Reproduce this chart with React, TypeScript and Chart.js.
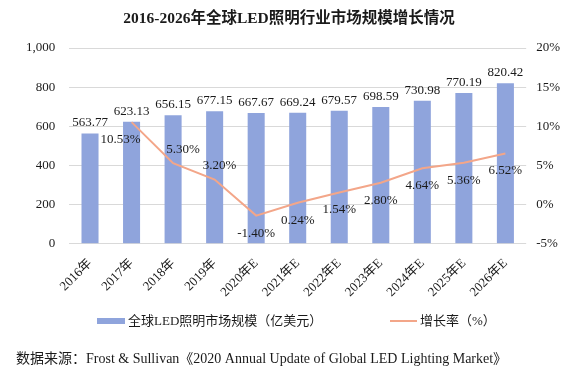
import React, { useEffect, useRef } from "react";
import { Chart, registerables } from "chart.js";

Chart.register(...registerables);

const categories = ["2016年", "2017年", "2018年", "2019年", "2020年E", "2021年E", "2022年E", "2023年E", "2024年E", "2025年E", "2026年E"];
const marketSize = [563.77, 623.13, 656.15, 677.15, 667.67, 669.24, 679.57, 698.59, 730.98, 770.19, 820.42];
const growthRate: (number | null)[] = [null, 10.53, 5.3, 3.2, -1.4, 0.24, 1.54, 2.8, 4.64, 5.36, 6.52];
const leftTickMin = 0;
const leftTickMax = 1000;
const leftTickStep = 200;
const rightTickMin = -5;
const rightTickMax = 20;
const rightTickStep = 5;

const titleText = "2016-2026年全球LED照明行业市场规模增长情况";
const barLegend = "全球LED照明市场规模（亿美元）";
const lineLegend = "增长率（%）";
const sourceText = "数据来源：Frost & Sullivan《2020 Annual Update of Global LED Lighting Market》";

// label placement styles for growth-rate labels
const growthLabelAbove = [false, false, true, true, false, false, false, false, false, false, false];
const growthLabelShiftX = [0, -11, 10, 5, 0, 0, 0, 0, 0, 0, 0];

const FONT = "'Liberation Serif', 'Noto Sans CJK SC', serif";
const BAR_COLOR = "#8FA4DC";
const LINE_COLOR = "#F3A689";
const TEXT_COLOR = "#1a1a1a";

const labelPlugin = {
  id: "valueLabels",
  afterDatasetsDraw(chart: any) {
    const ctx = chart.ctx;
    ctx.save();
    ctx.font = `13px ${FONT}`;
    ctx.fillStyle = TEXT_COLOR;
    ctx.textAlign = "center";
    const barMeta = chart.getDatasetMeta(0);
    barMeta.data.forEach((el: any, i: number) => {
      ctx.textBaseline = "bottom";
      ctx.fillText(marketSize[i].toFixed(2), el.x, el.y - 4);
    });
    const lineMeta = chart.getDatasetMeta(1);
    lineMeta.data.forEach((el: any, i: number) => {
      const v = growthRate[i];
      if (v === null || v === undefined) return;
      const txt = v.toFixed(2) + "%";
      const x = el.x + growthLabelShiftX[i];
      if (growthLabelAbove[i]) {
        ctx.textBaseline = "bottom";
        ctx.fillText(txt, x, el.y - 7);
      } else {
        ctx.textBaseline = "top";
        ctx.fillText(txt, x, el.y + 11);
      }
    });
    ctx.restore();
  },
};

export default function App() {
  const ref = useRef<HTMLCanvasElement | null>(null);

  useEffect(() => {
    if (!ref.current) return;
    const chart = new Chart(ref.current, {
      type: "bar",
      data: {
        labels: categories,
        datasets: [
          {
            type: "bar",
            label: barLegend,
            data: marketSize,
            backgroundColor: BAR_COLOR,
            yAxisID: "y",
            barPercentage: 0.41,
            categoryPercentage: 1,
            order: 2,
          },
          {
            type: "line",
            label: lineLegend,
            data: growthRate,
            borderColor: LINE_COLOR,
            backgroundColor: LINE_COLOR,
            borderWidth: 2,
            pointRadius: 0,
            tension: 0,
            yAxisID: "y1",
            order: 1,
          } as any,
        ],
      },
      options: {
        responsive: false,
        animation: false,
        layout: { padding: { left: 12, right: 8, top: 48, bottom: 68 } },
        plugins: {
          legend: { display: false },
          tooltip: { enabled: false },
          title: { display: false },
        },
        scales: {
          x: {
            grid: { display: false },
            border: { display: false },
            ticks: {
              color: TEXT_COLOR,
              font: { family: FONT, size: 13 },
              minRotation: 45,
              maxRotation: 45,
              padding: 4,
            },
          },
          y: {
            position: "left",
            min: leftTickMin,
            max: leftTickMax,
            grid: { color: "#d9d9d9", drawTicks: false },
            border: { display: false },
            ticks: {
              stepSize: leftTickStep,
              padding: 14,
              color: TEXT_COLOR,
              font: { family: FONT, size: 13 },
              callback: (v: any) => Number(v).toLocaleString("en-US"),
            },
          },
          y1: {
            position: "right",
            min: rightTickMin,
            max: rightTickMax,
            grid: { drawOnChartArea: false, drawTicks: false },
            border: { display: false },
            ticks: {
              stepSize: rightTickStep,
              padding: 10,
              color: TEXT_COLOR,
              font: { family: FONT, size: 13 },
              callback: (v: any) => `${v}%`,
            },
          },
        },
      },
      plugins: [labelPlugin],
    });
    return () => chart.destroy();
  }, []);

  const textStyle: React.CSSProperties = {
    position: "absolute",
    fontFamily: FONT,
    color: TEXT_COLOR,
    whiteSpace: "nowrap",
    lineHeight: 1,
  };

  return (
    <div style={{ position: "absolute", left: 0, top: 0, width: 578, height: 372, background: "#fff", overflow: "hidden" }}>
      <canvas ref={ref} width={578} height={372} style={{ position: "absolute", left: 0, top: 0 }} />
      <div style={{ ...textStyle, left: 0, width: 578, top: 10, textAlign: "center", fontSize: 15.5, fontWeight: "bold" }}>
        {titleText}
      </div>
      <div style={{ position: "absolute", left: 97, top: 318, width: 28, height: 6, background: BAR_COLOR }} />
      <div style={{ ...textStyle, left: 128, top: 314, fontSize: 13 }}>{barLegend}</div>
      <div style={{ position: "absolute", left: 390, top: 320, width: 27, height: 2, background: LINE_COLOR }} />
      <div style={{ ...textStyle, left: 420, top: 314, fontSize: 13 }}>{lineLegend}</div>
      <div style={{ ...textStyle, left: 16, top: 352, fontSize: 14 }}>{sourceText}</div>
    </div>
  );
}
